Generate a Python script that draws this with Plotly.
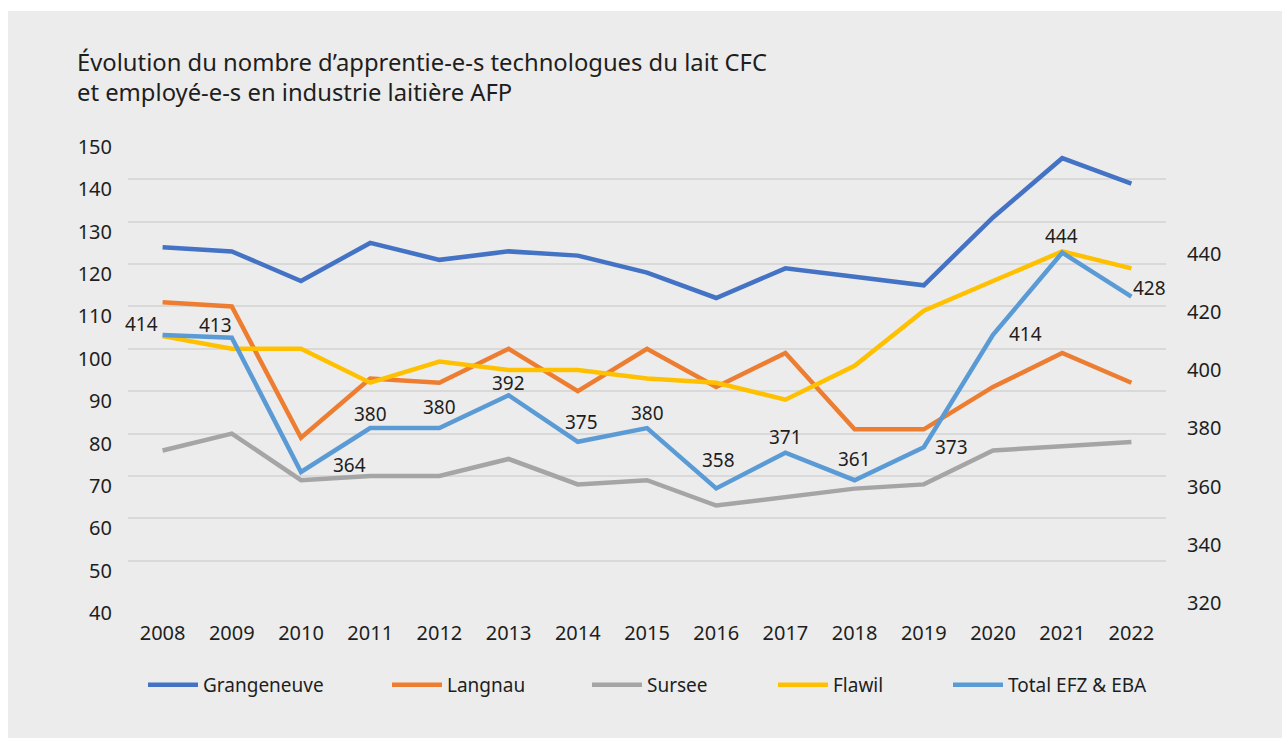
import plotly.graph_objects as go

years = [str(y) for y in range(2008, 2023)]
grangeneuve = [124, 123, 116, 125, 121, 123, 122, 118, 112, 119, 117, 115, 131, 145, 139]
langnau = [111, 110, 79, 93, 92, 100, 90, 100, 91, 99, 81, 81, 91, 99, 92]
sursee = [76, 80, 69, 70, 70, 74, 68, 69, 63, 65, 67, 68, 76, 77, 78]
flawil = [103, 100, 100, 92, 97, 95, 95, 93, 92, 88, 96, 109, 116, 123, 119]
total = [414, 413, 364, 380, 380, 392, 375, 380, 358, 371, 361, 373, 414, 444, 428]

left_ticks = list(range(40, 151, 10))
right_ticks = list(range(320, 441, 20))

title_lines = ["Évolution du nombre d’apprentie-e-s technologues du lait CFC",
               "et employé-e-s en industrie laitière AFP"]

# label offsets (px) for the total data labels
label_dx = [-21, -16, 48, 0, 0, 0, 4, 0, 2, 0, 0, 28, 32, -1, 18]
label_dy = [11, 13, 7, 14, 21, 12, 20, 15, 28, 16, 21, 0, 1, 17, 9]

FONT = "Noto Sans"
TXT = "#1e1e1e"
BG = "#ECECEC"

W, H = 1282, 738
ML, MR, MT, MB = 128, 116, 137, 135
PW, PH = W - ML - MR, H - MT - MB


def px_x(px):
    return (px - ML) / PW


def px_y(py):
    return (H - MB - py) / PH


fig = go.Figure()
series = [
    ("Grangeneuve", grangeneuve, "#4472C4", "y"),
    ("Langnau", langnau, "#ED7D31", "y"),
    ("Sursee", sursee, "#A5A5A5", "y"),
    ("Flawil", flawil, "#FFC000", "y"),
    ("Total EFZ & EBA", total, "#5B9BD5", "y3"),
]
legend_text_x = [201, 445, 645, 831, 1006]
legend_names = ["legend", "legend2", "legend3", "legend4", "legend5"]
legend_layout = {}
for i, (name, vals, col, ax) in enumerate(series):
    fig.add_trace(go.Scatter(x=years, y=vals, name=name, mode="lines",
                             line=dict(color=col, width=4.5), yaxis=ax,
                             legend=legend_names[i]))
    legend_layout[legend_names[i]] = dict(
        orientation="h", x=px_x(legend_text_x[i] - 58), xanchor="left",
        y=px_y(666), yanchor="top", itemwidth=50,
        font=dict(family=FONT, size=19, color=TXT), bgcolor="rgba(0,0,0,0)")

for i, v in enumerate(total):
    fig.add_annotation(x=i, y=v, xref="x", yref="y3", text=str(v), showarrow=False,
                       xshift=label_dx[i], yshift=label_dy[i],
                       font=dict(family=FONT, size=19, color=TXT))

# title
for line, cy in zip(title_lines, [62, 92]):
    fig.add_annotation(xref="paper", yref="paper", x=px_x(75), y=px_y(cy),
                       xanchor="left", yanchor="middle", align="left", showarrow=False,
                       text=line, font=dict(family=FONT, size=23.8, color=TXT))

# white frame strips (top & left)
fig.add_shape(type="rect", xref="paper", yref="paper", layer="below",
              x0=px_x(0), x1=px_x(8), y0=px_y(H), y1=px_y(0),
              fillcolor="white", line=dict(width=0))
fig.add_shape(type="rect", xref="paper", yref="paper", layer="below",
              x0=px_x(0), x1=px_x(W), y0=px_y(11), y1=px_y(0),
              fillcolor="white", line=dict(width=0))

fig.update_layout(
    width=W, height=H, autosize=False,
    margin=dict(l=ML, r=MR, t=MT, b=MB),
    paper_bgcolor=BG, plot_bgcolor=BG,
    font=dict(family=FONT, size=19, color=TXT),
    showlegend=True,
    hovermode=False,
    xaxis=dict(type="category", range=[-0.5, 14.5], showgrid=False, zeroline=False,
               showline=False, ticks="", tickfont=dict(size=20), ticklabelstandoff=16),
    yaxis=dict(range=[40, 150], tickvals=left_ticks, showgrid=True, gridcolor="#D9D9D9",
               gridwidth=2, zeroline=False, showline=False, ticks="",
               tickfont=dict(size=20), ticklabelstandoff=15, ticklabelshift=10),
    yaxis2=dict(range=[320, 480], tickvals=right_ticks, overlaying="y", side="right",
                showgrid=False, zeroline=False, showline=False, ticks="",
                tickfont=dict(size=20), ticklabelstandoff=20),
    yaxis3=dict(range=[316.2, 486.2], overlaying="y", side="right", showgrid=False,
                zeroline=False, showline=False, ticks="", showticklabels=False),
    **legend_layout,
)
# invisible trace so the right axis is drawn
fig.add_trace(go.Scatter(x=[years[0]], y=[320], yaxis="y2", mode="markers",
                         marker=dict(opacity=0), showlegend=False))

fig.write_html("out.html")
